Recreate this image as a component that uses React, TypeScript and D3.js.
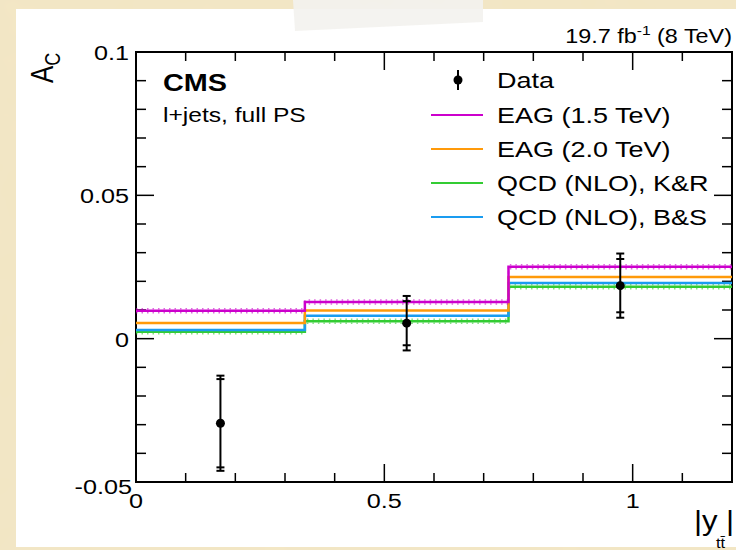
import React from 'react';
import * as d3 from 'd3';

// bins in |y_tt| and measured / predicted charge asymmetry
const binEdges = [0, 0.34, 0.75, 1.2];
const dataX = [0.17, 0.545, 0.975];
const dataY = [-0.0295, 0.0054, 0.0185];
const statErr = [0.0154, 0.0077, 0.0093];
const totErr = [0.0166, 0.0095, 0.0112];

const eag15 = [0.0097, 0.0128, 0.0251];
const eag20 = [0.0055, 0.0098, 0.0215];
const qcdKR = [0.0024, 0.0061, 0.0181];
const qcdBS = [0.003, 0.008, 0.0194];

const yMajor = [-0.05, 0, 0.05, 0.1];
const yMajorLabels = ['-0.05', '0', '0.05', '0.1'];
const xMajor = [0, 0.5, 1];
const xMajorLabels = ['0', '0.5', '1'];

const models = [
  { name: 'QCD (NLO), K&R', values: qcdKR, color: '#33cc33', band: true },
  { name: 'QCD (NLO), B&S', values: qcdBS, color: '#1a9cf0', band: false },
  { name: 'EAG (2.0 TeV)', values: eag20, color: '#ff9a0a', band: false },
  { name: 'EAG (1.5 TeV)', values: eag15, color: '#cc00cc', band: true },
];
const legendOrder = ['EAG (1.5 TeV)', 'EAG (2.0 TeV)', 'QCD (NLO), K&R', 'QCD (NLO), B&S'];

const SX = 1.2; // the picture is stretched sideways
const FONT = '"Liberation Sans", Arial, Helvetica, sans-serif';

function T({ x, y, size, anchor = 'start', bold = false, children }: any) {
  return (
    <text
      transform={`translate(${x},${y}) scale(${SX},1)`}
      fontSize={size}
      fontFamily={FONT}
      fontWeight={bold ? 'bold' : 'normal'}
      textAnchor={anchor}
      fill="#000"
    >
      {children}
    </text>
  );
}

export default function App() {
  const left = 136, right = 732, top = 52, bottom = 482;
  const x = d3.scaleLinear().domain([0, 1.2]).range([left, right]);
  const y = d3.scaleLinear().domain([-0.05, 0.1]).range([bottom, top]);

  const yMinor = d3.range(-0.05, 0.1001, 0.01);
  const xMinor = d3.range(0, 1.2001, 0.1);

  const step = d3
    .line<number>()
    .x((_, i) => x(binEdges[i]))
    .y((d) => d)
    .curve(d3.curveStepAfter);

  // pixel offset dy lets the hatched error band sit just off the line
  const stepPath = (vals: number[], dy = 0) =>
    step([...vals, vals[vals.length - 1]].map((v) => y(v) + dy));

  return (
    <svg width={736} height={550} style={{ position: 'absolute', left: 0, top: 0 }}>
      <defs>
        <filter id="grain">
          <feTurbulence type="fractalNoise" baseFrequency="0.02" numOctaves="3" seed="4" />
          <feColorMatrix
            type="matrix"
            values="0 0 0 0 0.85  0 0 0 0 0.75  0 0 0 0 0.5  0 0 0 0.25 0"
          />
        </filter>
      </defs>
      <rect width={736} height={550} fill="#f3e7c6" />
      <rect width={736} height={550} filter="url(#grain)" />
      <rect x={16} y={9} width={720} height={538} fill="#fff" />
      <polygon points="293,0 483,0 483,22 295,31" fill="#f3f2ee" opacity={0.9} />

      {/* frame */}
      <rect x={left} y={top} width={right - left} height={bottom - top} fill="none" stroke="#000" strokeWidth={2} />

      {/* y ticks, both sides */}
      {yMinor.map((v) => {
        const major = yMajor.some((m) => Math.abs(m - v) < 1e-6);
        const len = major ? 18 : 10;
        return (
          <g key={'y' + v.toFixed(3)} stroke="#000" strokeWidth={1.5}>
            <line x1={left} x2={left + len} y1={y(v)} y2={y(v)} />
            <line x1={right} x2={right - len} y1={y(v)} y2={y(v)} />
          </g>
        );
      })}
      {/* x ticks, both sides */}
      {xMinor.map((v) => {
        const major = xMajor.some((m) => Math.abs(m - v) < 1e-6);
        const len = major ? 18 : 9;
        return (
          <g key={'x' + v.toFixed(2)} stroke="#000" strokeWidth={1.5}>
            <line x1={x(v)} x2={x(v)} y1={bottom} y2={bottom - len} />
            <line x1={x(v)} x2={x(v)} y1={top} y2={top + len} />
          </g>
        );
      })}

      {yMajor.map((v, i) => (
        <T key={'yl' + i} x={i === 0 ? 132 : 129} y={y(v) + (i === 0 ? 12 : 8)} size={21} anchor="end">
          {yMajorLabels[i]}
        </T>
      ))}
      {xMajor.map((v, i) => (
        <T key={'xl' + i} x={x(v)} y={508} size={21} anchor="middle">
          {xMajorLabels[i]}
        </T>
      ))}

      {/* model predictions */}
      {models.map((m) => (
        <g key={m.name}>
          {m.band && (
            <>
              <path d={stepPath(m.values, -2) || ''} fill="none" stroke={m.color} strokeWidth={1.5} strokeDasharray="1.5 4" opacity={0.6} />
              <path d={stepPath(m.values, 2) || ''} fill="none" stroke={m.color} strokeWidth={1.5} strokeDasharray="1.5 4" opacity={0.6} />
            </>
          )}
          <path d={stepPath(m.values) || ''} fill="none" stroke={m.color} strokeWidth={2.5} />
        </g>
      ))}

      {/* data */}
      {dataX.map((dx, i) => {
        const cx = x(dx);
        const caps = [dataY[i] + totErr[i], dataY[i] + statErr[i], dataY[i] - statErr[i], dataY[i] - totErr[i]];
        return (
          <g key={'d' + i} stroke="#000">
            <line x1={cx} x2={cx} y1={y(caps[0])} y2={y(caps[3])} strokeWidth={2} />
            {caps.map((c, j) => (
              <line key={j} x1={cx - 4} x2={cx + 4} y1={y(c)} y2={y(c)} strokeWidth={2} />
            ))}
            <circle cx={cx} cy={y(dataY[i])} r={4.5} fill="#000" stroke="none" />
          </g>
        );
      })}

      {/* legend */}
      <g>
        <line x1={458} x2={458} y1={70} y2={90} stroke="#000" strokeWidth={2} />
        <circle cx={458} cy={80} r={4.5} fill="#000" />
        <T x={497} y={88} size={22.5}>Data</T>
        {legendOrder.map((name, i) => {
          const m = models.find((mm) => mm.name === name)!;
          const ly = 115 + i * 34;
          return (
            <g key={name}>
              <line x1={431} x2={483} y1={ly} y2={ly} stroke={m.color} strokeWidth={2} />
              <T x={497} y={ly + 8} size={22.5}>{name}</T>
            </g>
          );
        })}
      </g>

      <T x={163} y={91} size={24} bold>CMS</T>
      <T x={163} y={122} size={20.5}>l+jets, full PS</T>

      <text transform={`translate(732,43) scale(${SX},1)`} fontSize={19.5} fontFamily={FONT} textAnchor="end">
        19.7 fb<tspan fontSize={13} dy={-8}>-1</tspan>
        <tspan dy={8}> (8 TeV)</tspan>
      </text>

      {/* axis titles */}
      <text transform={`translate(53,83) scale(${SX},1) rotate(-90)`} fontSize={26} fontFamily={FONT}>
        A<tspan fontSize={18} dy={6}>C</tspan>
      </text>
      <text transform="translate(694,530) scale(1.15,1)" fontSize={27} fontFamily={FONT}>
        |y
      </text>
      <text transform="translate(716,548) scale(1.1,1)" fontSize={15} fontFamily={FONT}>
        tt̄
      </text>
      <text transform="translate(734,530) scale(1.15,1)" fontSize={27} fontFamily={FONT} textAnchor="end">
        |
      </text>
    </svg>
  );
}
